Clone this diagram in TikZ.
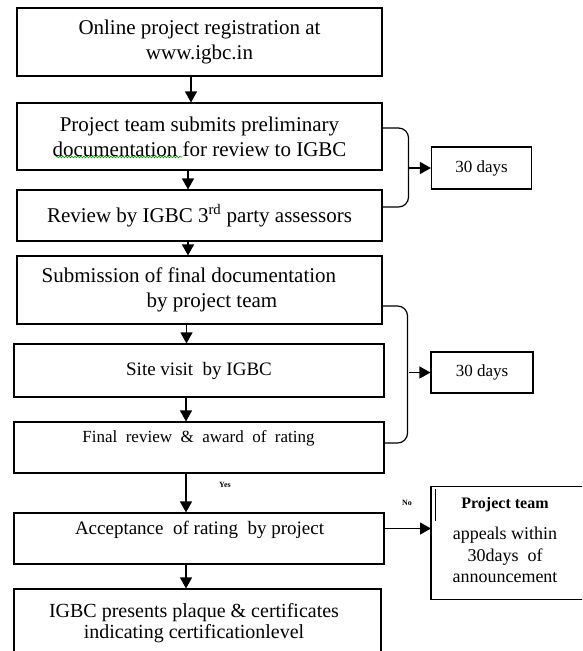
\documentclass[tikz,border=0pt]{standalone}
\usepackage{fontspec}
\setmainfont{Liberation Serif}
\usetikzlibrary{arrows.meta,decorations.pathmorphing}

\begin{document}
\begin{tikzpicture}[
        x=1pt, y=-1pt,
        every node/.style={inner sep=0pt, align=center},
        stage/.style={draw, line width=1.1pt, minimum width=365pt},
        dayz/.style={draw, line width=1.1pt, minimum width=100pt, minimum height=42pt,
            font=\fontsize{17}{20}\selectfont},
        big/.style={font=\fontsize{21}{25}\selectfont},
        mid/.style={font=\fontsize{19}{22}\selectfont},
        flow/.style={line width=1.2pt, -{Triangle[width=12pt,length=11pt]}},
        brace/.style={line width=1.2pt, rounded corners=10pt},
        tag/.style={font=\fontsize{8}{9}\bfseries\selectfont}]
    \useasboundingbox (0,0) rectangle (582,651);
    \clip (0,0) rectangle (582,651);
    % main column
    \node [stage, big, minimum height=68pt] (b1) at (199.5,42) {Online project registration at\\www.igbc.in};
    \node [stage, big, minimum height=67pt] (b2) at (199.5,136.5) {Project team submits preliminary\\documentation for review to IGBC};
    \node [stage, big, minimum height=51pt] (b3) at (199.5,215.5) {Review by IGBC 3\textsuperscript{rd} party assessors};
    \node [stage, minimum height=68pt] (b4) at (199.5,290) {};
    \node [big, align=left, anchor=west] (t4) at ([xshift=25pt]b4.west) {Submission of final documentation\\\hspace*{105pt}by project team};
    \node [stage, mid, minimum width=370pt, minimum height=53pt] (b5) at (199,370.5) {Site visit\ \ by IGBC};
    \node [stage, minimum width=370pt, minimum height=51pt] (b6) at (199,447.5) {};
    \node [font=\fontsize{17}{20}\selectfont] (t6) at (198.5,438) {Final\ \ review\ \ \&\ \ award\ \ of\ \ rating};
    \node [stage, minimum width=370pt, minimum height=51pt] (b7) at (199,538.5) {};
    \node [mid] (t7) at (199.5,530) {Acceptance\ \ of rating\ \ by project};
    \node [stage, minimum width=367pt, minimum height=111pt] (b8) at (197.5,644.5) {};
    \node [font=\fontsize{20}{21}\selectfont] (t8) at (194,623) {IGBC presents plaque \& certificates\\indicating certificationlevel};
    % spell check line
    \draw [green!60!black, line width=0.6pt, decorate,
        decoration={snake, amplitude=0.8pt, segment length=3pt}] (56,157) -- (182,157);
    % side boxes
    \node [dayz] (d1) at (481.5,168) {30 days};
    \node [dayz, minimum width=102pt, minimum height=41pt] (d2) at (482,372.5) {30 days};
    \node [minimum width=220pt, minimum height=112pt, anchor=west] (pt) at (431,543) {};
    \draw [line width=1.1pt] (pt.north east) -| (pt.south west) -- (pt.south east);
    \node [font=\fontsize{18}{21.5}\selectfont] (t9) at (505,540)
        {{\bfseries\fontsize{16}{18}\selectfont Project team}\\[10pt]appeals within\\30days\ \ of\\announcement};
    \draw [line width=0.8pt] (435,489) -- (435,521);
    % arrows down the column
    \foreach \a/\b/\s in {b1/b2/-8.5pt, b2/b3/-11.5pt, b3/b4/-11.5pt, b4/b5/-13pt,
                          b5/b6/-13pt, b6/b7/-13pt, b7/b8/-13pt}
        \draw [flow] ([xshift=\s]\a.south) -- ([xshift=\s]\a.south |- \b.north);
    % braces
    \coordinate (m1) at (408,168);
    \coordinate (m2) at (409,372.5);
    \draw [brace] ([yshift=8.5pt]b2.east) -- ++(26,0) |- ([yshift=8.5pt]b3.east);
    \draw [flow] (m1) -- (m1 -| d1.west);
    \draw [brace] ([yshift=-16pt]b4.east) -- ++(25,0) |- ([yshift=4.5pt]b6.east);
    \draw [flow] (m2) -- (m2 -| d2.west);
    % decision
    \draw [flow] ([yshift=10pt]b7.east) -- ([yshift=10pt]b7.east -| pt.west);
    \node [tag] (yes) at (225,485) {Yes};
    \node [tag] (no) at (407,503) {No};
\end{tikzpicture}
\end{document}
